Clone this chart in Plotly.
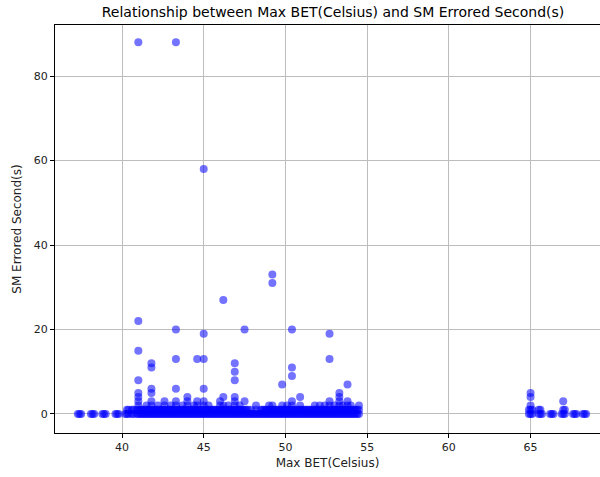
import plotly.graph_objects as go

# Max BET reading (Celsius) per logged group and the SM errored-second counts seen at it
bet_celsius = [
    37.4, 38.2, 38.9, 39.7, 40.3, 40.6, 41.0, 41.3, 41.5, 41.8, 42.0, 42.2, 42.4, 42.6,
    42.8, 43.0, 43.3, 43.5, 43.7, 44.0, 44.2, 44.4, 44.6, 44.8, 45.0, 45.3, 45.6, 45.8,
    46.0, 46.2, 46.5, 46.7, 46.9, 47.2, 47.5, 47.7, 47.9, 48.2, 48.5, 48.8, 49.0, 49.2,
    49.5, 49.8, 50.1, 50.4, 50.6, 50.9, 51.2, 51.5, 51.8, 52.1, 52.4, 52.7, 53.0, 53.3,
    53.5, 53.8, 54.0, 54.5, 65.0, 65.6, 66.3, 67.0, 67.7, 68.3,
]
errored_seconds = [
    [0], [0], [0], [0], [0, 1], [0, 1],
    [0, 1, 2, 3, 4, 5, 8, 15, 22, 88], [0, 1], [0, 1, 2],
    [0, 1, 2, 3, 5, 6, 11, 12], [0, 1], [0, 1, 2], [0, 1], [0, 1, 2, 3],
    [0, 1], [0, 1, 2], [0, 1, 2, 3, 6, 13, 20, 88], [0, 1], [0, 1, 2], [0, 1, 2, 3, 4],
    [0, 1], [0, 1, 2], [0, 1, 2, 3, 13], [0, 1], [0, 1, 2, 3, 6, 13, 19, 58], [0, 1, 2], [0, 1], [0, 1],
    [0, 1, 2, 3], [0, 1, 2, 4, 27], [0, 1, 2], [0, 1], [0, 1, 2, 3, 4, 8, 10, 12], [0, 1, 2], [0, 1, 3, 20], [0, 1],
    [0, 1], [0, 1, 2], [0, 1], [0, 1], [0, 1, 2], [0, 1, 2, 31, 33],
    [0, 1], [0, 1, 2, 7], [0, 1, 2], [0, 1, 2, 3, 9, 11, 20], [0, 1], [0, 1, 2, 4], [0, 1], [0, 1],
    [0, 1, 2], [0, 1, 2], [0, 1, 2], [0, 1, 2, 3, 13, 19], [0, 1, 2], [0, 1, 2, 3, 4, 5],
    [0, 1, 2], [0, 1, 2, 3, 7], [0, 1, 2], [0, 1, 2], [0, 1, 2, 4, 5], [0, 1], [0], [0, 1, 3], [0], [0],
]

# Further readings that only logged 0 or 1 errored seconds
quiet_temps = [
    37.3, 37.5, 38.1, 38.3, 38.8, 39.0, 39.6, 39.8, 40.2, 40.4, 40.7, 40.9,
    41.1, 41.2, 41.4, 41.6, 41.7, 41.9, 42.1, 42.3, 42.5, 42.7, 42.9, 43.1,
    43.2, 43.4, 43.6, 43.8, 43.9, 44.1, 44.3, 44.5, 44.7, 44.9, 45.1, 45.2,
    45.4, 45.5, 45.7, 45.9, 46.1, 46.3, 46.4, 46.6, 46.8, 47.0, 47.1, 47.3,
    47.4, 47.6, 47.8, 48.0, 48.1, 48.3, 48.4, 48.6, 48.7, 48.9, 49.1, 49.3,
    49.4, 49.6, 49.7, 49.9, 50.0, 50.2, 50.3, 50.5, 50.7, 50.8, 51.0, 51.1,
    51.3, 51.4, 51.6, 51.7, 51.9, 52.0, 52.2, 52.3, 52.5, 52.6, 52.8, 52.9,
    53.1, 53.2, 53.4, 53.6, 53.7, 53.9, 54.1, 54.2, 54.3, 54.4,
    64.9, 65.1, 65.5, 65.7, 66.2, 66.4, 66.9, 67.1, 67.6, 67.8, 68.2, 68.4,
]
quiet_errors = [
    0, 0, 0, 0, 0, 0, 0, 0, 0, 1, 1, 1,
    1, 1, 1, 1, 1, 1, 1, 1, 1, 1, 1, 1,
    1, 1, 1, 1, 1, 1, 1, 1, 1, 1, 1, 1,
    1, 1, 1, 1, 1, 1, 1, 1, 1, 1, 1, 1,
    1, 1, 0, 0, 0, 0, 0, 1, 1, 1, 1, 1,
    1, 1, 1, 1, 1, 1, 1, 1, 1, 1, 1, 1,
    1, 1, 1, 1, 1, 1, 1, 1, 1, 1, 1, 1,
    1, 1, 1, 1, 1, 1, 1, 1, 1, 1,
    1, 1, 1, 0, 0, 0, 0, 1, 0, 0, 0, 0,
]

x_ticks = [40, 45, 50, 55, 60, 65]
y_ticks = [0, 20, 40, 60, 80]

xs, ys = [], []
for t, vals in zip(bet_celsius, errored_seconds):
    for v in vals:
        xs.append(t)
        ys.append(v)
for t, top in zip(quiet_temps, quiet_errors):
    for v in range(top + 1):
        xs.append(t)
        ys.append(v)

fig = go.Figure(
    go.Scatter(
        x=xs, y=ys, mode="markers",
        marker=dict(color="blue", size=8, opacity=0.55, line=dict(width=0)),
        hoverinfo="skip",
    )
)

axis_common = dict(
    showgrid=True, gridcolor="#bdbdbd", gridwidth=1,
    showline=True, linecolor="black", linewidth=1, mirror=True,
    ticks="outside", ticklen=4, tickcolor="black",
    tickfont=dict(family="DejaVu Sans", size=11, color="#222"),
    zeroline=False,
)

fig.update_layout(
    width=600, height=477,
    margin=dict(l=55, r=0, t=25, b=44),
    plot_bgcolor="white", paper_bgcolor="white",
    showlegend=False,
    title=dict(
        text="Relationship between Max BET(Celsius) and SM Errored Second(s)",
        x=0.555, xanchor="center", y=0.975, yanchor="middle",
        font=dict(family="DejaVu Sans", size=14, color="black"),
    ),
    xaxis=dict(
        axis_common, range=[35.9, 69.25], tickvals=x_ticks,
        title=dict(text="Max BET(Celsius)", font=dict(family="DejaVu Sans", size=12, color="#222"), standoff=5),
    ),
    yaxis=dict(
        axis_common, range=[-4.5, 92.1], tickvals=y_ticks,
        title=dict(text="SM Errored Second(s)", font=dict(family="DejaVu Sans", size=12, color="#222"), standoff=9),
    ),
)

fig.write_html("out.html")
